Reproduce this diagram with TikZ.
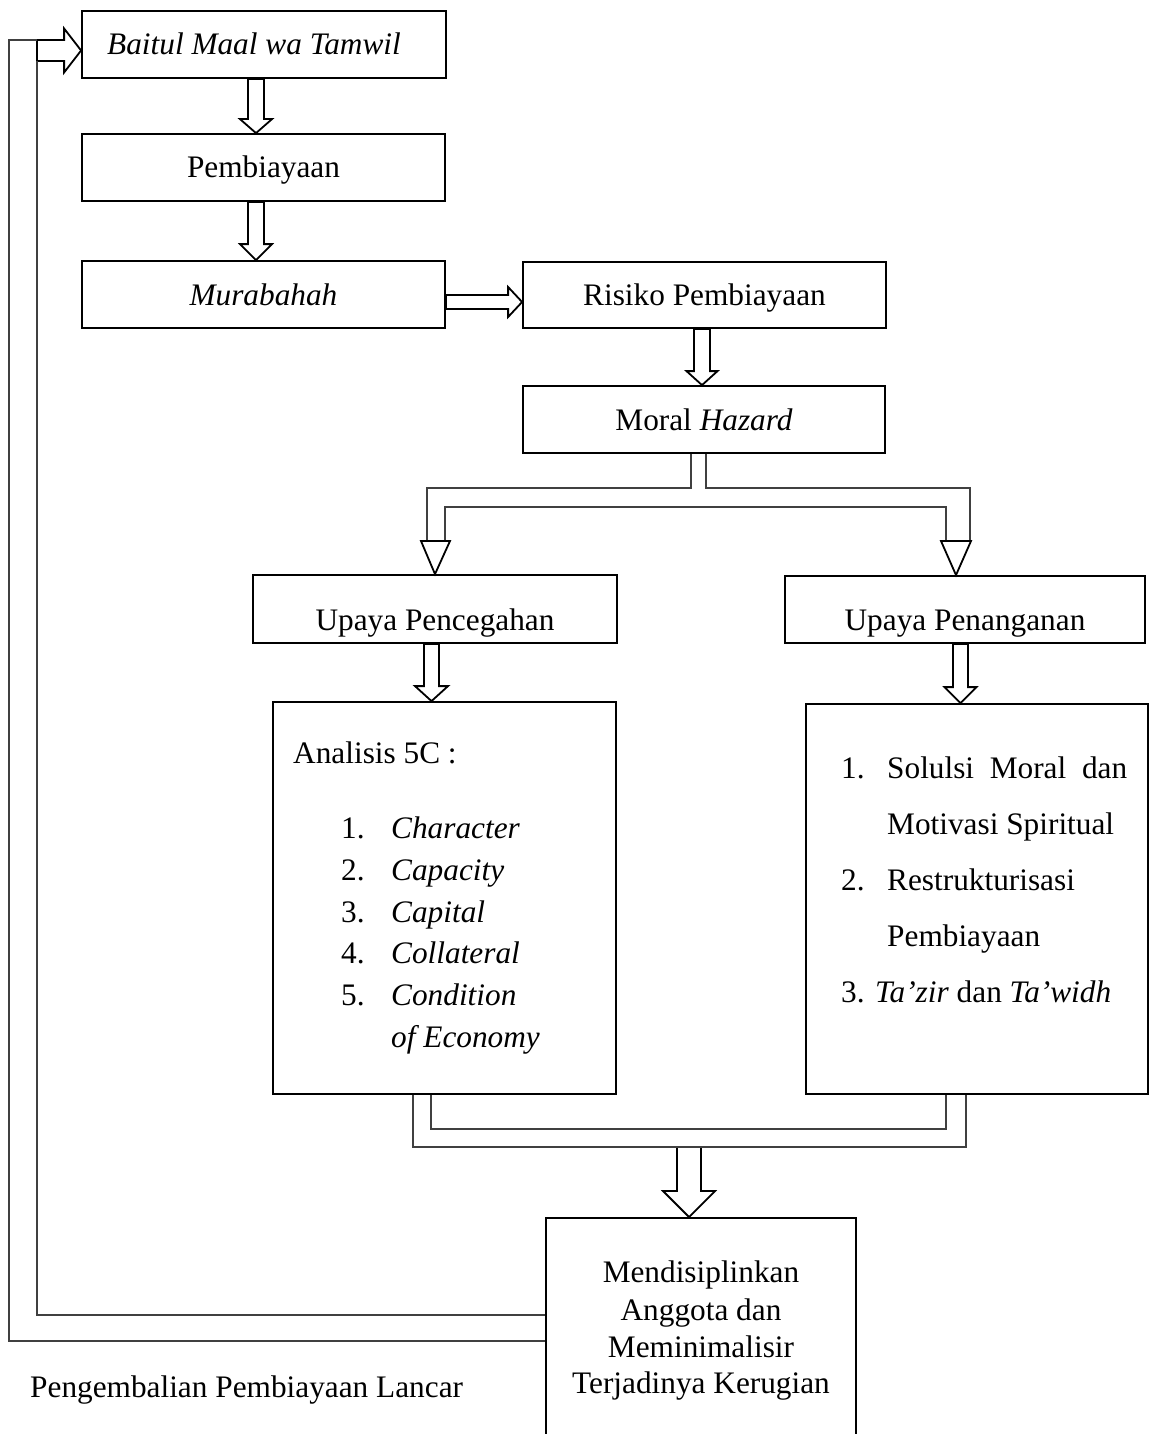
\documentclass[tikz,border=0pt]{standalone}
\usepackage{fontspec}
\setmainfont{Liberation Serif}
\usetikzlibrary{calc}
\newcommand{\vblock}[6]{%
 \draw[blk] let \p1=(#4), \p2=(#5) in
 (#1pt-#2pt,\y1) -- (#1pt-#2pt,\y2+#6pt) -- (#1pt-#3pt,\y2+#6pt) -- (#1pt,\y2)
 -- (#1pt+#3pt,\y2+#6pt) -- (#1pt+#2pt,\y2+#6pt) -- (#1pt+#2pt,\y1) -- cycle;}
\newcommand{\hblock}[6]{%
 \draw[blk] let \p1=(#4), \p2=(#5) in
 (\x1,-#1pt+#2pt) -- (\x2-#6pt,-#1pt+#2pt) -- (\x2-#6pt,-#1pt+#3pt) -- (\x2,-#1pt)
 -- (\x2-#6pt,-#1pt-#3pt) -- (\x2-#6pt,-#1pt-#2pt) -- (\x1,-#1pt-#2pt) -- cycle;}
\begin{document}
\begin{tikzpicture}[x=1pt,y=-1pt,
  every node/.style={font=\fontsize{31.3pt}{37pt}\selectfont, inner sep=0pt},
  box/.style={draw, line width=1.8pt, text height=25pt, text depth=4pt},
  lowbox/.style={draw, line width=1.8pt, text height=46pt, text depth=4pt},
  blk/.style={draw, line width=1.8pt, fill=white, line join=miter},
  conn/.style={draw, line width=1.3pt, black!75},
  txt/.style={anchor=base west}]
\useasboundingbox (0,0) rectangle (1149,1434);

% boxes
\node[box, minimum width=364pt, minimum height=67pt] (baitul) at (264,44.5) {\hspace*{-20pt}\textit{Baitul Maal wa Tamwil}};
\node[box, minimum width=363pt, minimum height=67pt] (pemb) at (263.5,167.5) {Pembiayaan};
\node[box, minimum width=363pt, minimum height=67pt] (mura) at (263.5,294.5) {\textit{Murabahah}};
\node[box, minimum width=363pt, minimum height=66pt] (risiko) at (704.5,295) {Risiko Pembiayaan};
\node[box, minimum width=362pt, minimum height=67pt] (moral) at (704,419.5) {Moral \textit{Hazard}};
\node[lowbox, minimum width=364pt, minimum height=68pt] (pence) at (435,609) {Upaya Pencegahan};
\node[lowbox, minimum width=360pt, minimum height=67pt] (penan) at (965,609.5) {Upaya Penanganan};
\node[draw, line width=1.8pt, minimum width=343pt, minimum height=392pt] (anal) at (444.5,898) {};
\node[draw, line width=1.8pt, minimum width=342pt, minimum height=390pt] (solu) at (977,899) {};
\node[draw, line width=1.8pt, minimum width=310pt, minimum height=260pt, anchor=north] (disc) at (701,1217) {};

% list texts (left)
\node[txt] (a0) at (293,763) {Analisis 5C :};
\node[txt] (a1n) at (341,838) {1.};
\node[txt] (a1) at (391,838) {\textit{Character}};
\node[txt] (a2n) at (341,880) {2.};
\node[txt] (a2) at (391,880) {\textit{Capacity}};
\node[txt] (a3n) at (341,922) {3.};
\node[txt] (a3) at (391,922) {\textit{Capital}};
\node[txt] (a4n) at (341,963) {4.};
\node[txt] (a4) at (391,963) {\textit{Collateral}};
\node[txt] (a5n) at (341,1005) {5.};
\node[txt] (a5) at (391,1005) {\textit{Condition}};
\node[txt] (a6) at (391,1047) {\textit{of Economy}};

% list texts (right)
\node[txt] (b1n) at (841,778) {1.};
\node[txt] (b1) at (887,778) {\makebox[240pt][s]{Solulsi Moral dan}};
\node[txt] (b2) at (887,834) {Motivasi Spiritual};
\node[txt] (b3n) at (841,890) {2.};
\node[txt] (b3) at (887,890) {Restrukturisasi};
\node[txt] (b4) at (887,946) {Pembiayaan};
\node[txt] (b5) at (841,1002) {3. \textit{Ta’zir} dan \textit{Ta’widh}};

% bottom box text
\node[anchor=base] (d1) at (701,1282) {Mendisiplinkan};
\node[anchor=base] (d2) at (701,1320) {Anggota dan};
\node[anchor=base] (d3) at (701,1357) {Meminimalisir};
\node[anchor=base] (d4) at (701,1393) {Terjadinya Kerugian};

\node[txt] (lancar) at (30,1397) {Pengembalian Pembiayaan Lancar};

% block arrows
\vblock{256}{8}{16}{baitul.south}{pemb.north}{14}
\vblock{256}{8}{16}{pemb.south}{mura.north}{16}
\hblock{302}{7}{15}{mura.east}{risiko.west}{14}
\vblock{702}{8}{15.5}{risiko.south}{moral.north}{14}
\vblock{431.5}{7.5}{16.5}{pence.south}{anal.north}{15}
\vblock{960.5}{7.5}{16}{penan.south}{solu.north}{16}
\coordinate (bj) at (689,1147);
\vblock{689}{12}{26}{bj}{disc.north}{26}
\coordinate (fb) at (37,50.5);
\hblock{50.5}{10.5}{22}{fb}{baitul.west}{17}

% branch from Moral Hazard
\draw[conn] (moral.south -| 691,0) -- (691,488) -- (427,488) -- (427,541);
\draw[conn] (moral.south -| 706,0) -- (706,488) -- (970,488) -- (970,541);
\draw[conn] (445,541) -- (445,507) -- (946,507) -- (946,541);
\draw[blk] (421,541) -- (450,541) -- (pence.north -| 435,0) -- cycle;
\draw[blk] (941,541) -- (971,541) -- (penan.north -| 956,0) -- cycle;

% merge to bottom
\draw[conn] (anal.south -| 413,0) -- (413,1147) -- (966,1147) -- (solu.south -| 966,0);
\draw[conn] (anal.south -| 431,0) -- (431,1129) -- (946,1129) -- (solu.south -| 946,0);

% feedback
\draw[conn] (disc.west |- 0,1315) -- (37,1315) -- (37,61);
\draw[conn] (disc.west |- 0,1341) -- (9,1341) -- (9,40) -- (37,40);
\end{tikzpicture}
\end{document}
